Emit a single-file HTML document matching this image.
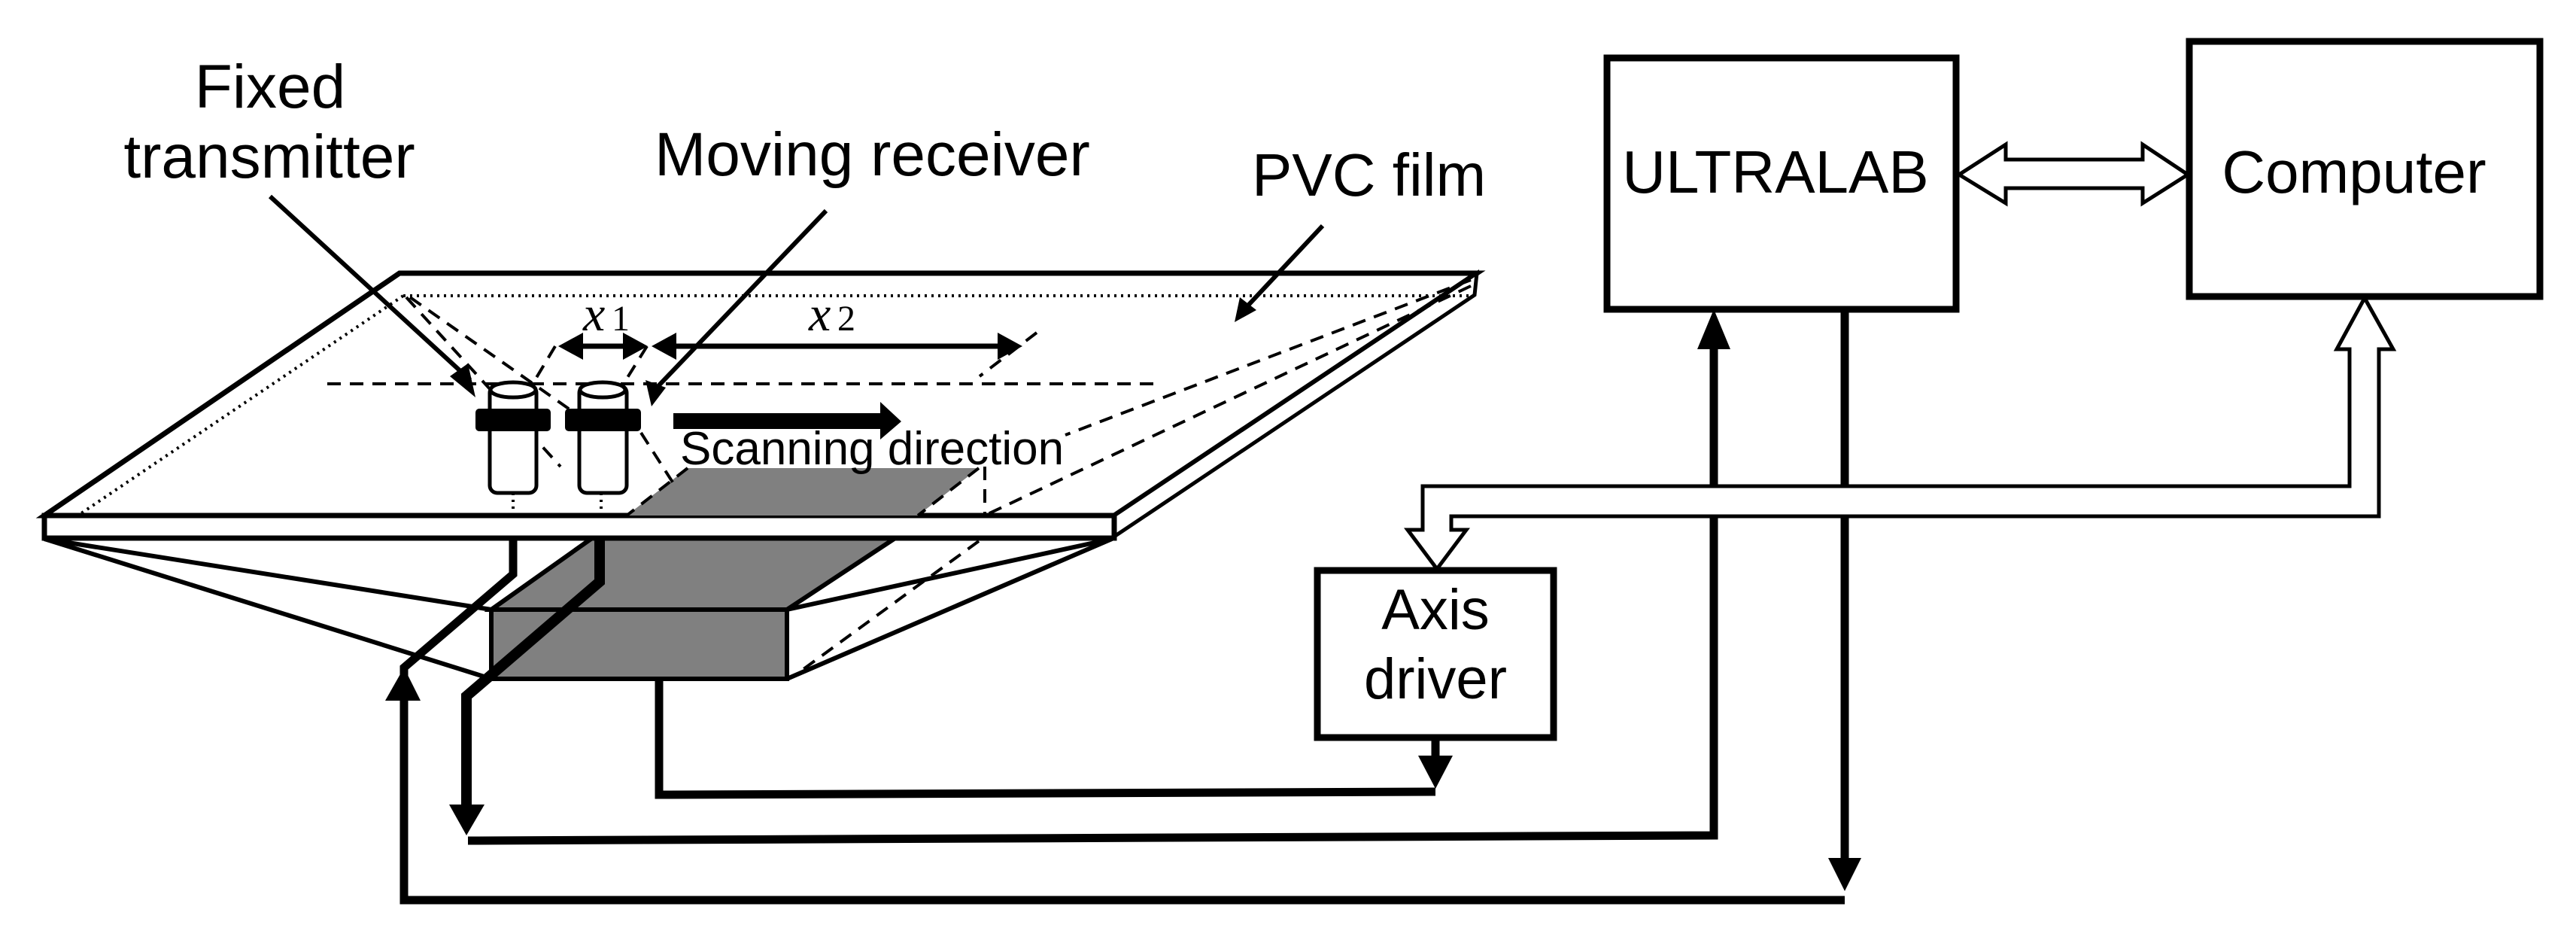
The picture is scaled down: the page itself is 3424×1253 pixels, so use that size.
<!DOCTYPE html>
<html><head><meta charset="utf-8"><style>
html,body{margin:0;padding:0;background:#fff;}
svg{display:block;}
text{font-family:"Liberation Sans",Arial,sans-serif;fill:#000;}
</style></head><body>
<svg width="3424" height="1253" viewBox="0 0 3424 1253" xmlns="http://www.w3.org/2000/svg">
<!-- labels -->
<text x="359" y="143" font-size="82" text-anchor="middle">Fixed</text>
<text x="358" y="236" font-size="82" text-anchor="middle">transmitter</text>
<text x="870" y="233" font-size="82">Moving receiver</text>
<text x="1664" y="260" font-size="80">PVC film</text>

<!-- gray sample on plate top -->
<polygon points="833,685 914,622 1301,622 1220,685" fill="#808080"/>
<!-- box top face -->
<polygon points="653,810 787,715 1190,715 1046,810" fill="#808080" stroke="#000" stroke-width="6"/>
<!-- box front -->
<rect x="653" y="810" width="393" height="92" fill="#808080" stroke="#000" stroke-width="6"/>

<!-- hopper lines -->
<g stroke="#000" stroke-width="6" fill="none">
<line x1="59" y1="716" x2="653" y2="810"/>
<line x1="59" y1="716" x2="653" y2="902"/>
<line x1="1478" y1="716" x2="1046" y2="810"/>
<line x1="1478" y1="716" x2="1046" y2="902"/>
</g>

<!-- plate -->
<g stroke="#000" fill="none" stroke-linejoin="miter">
<polygon points="531,363 1963,363 1481,685 59,685" fill="#fff" stroke-width="7"/>
<polygon points="1963,363 1960,392 1481,713 1481,685" fill="#fff" stroke-width="5"/>
<rect x="59" y="685" width="1422" height="30" fill="#fff" stroke-width="7"/>
</g>
<polygon points="833,685 914,622 1301,622 1220,685" fill="#808080"/>

<!-- dotted inner lines -->
<g stroke="#000" stroke-width="4" fill="none" stroke-dasharray="3,6">
<line x1="536" y1="393" x2="1960" y2="393"/>
<line x1="536" y1="393" x2="105" y2="684"/>
<line x1="682" y1="655" x2="682" y2="684"/>
<line x1="799" y1="655" x2="799" y2="684"/>
</g>

<!-- dashed lines -->
<g stroke="#000" stroke-width="4" fill="none" stroke-dasharray="18,12">
<line x1="435" y1="510" x2="1543" y2="510"/>
<line x1="1955" y1="372" x2="1416" y2="578"/>
<line x1="1955" y1="380" x2="1313" y2="683"/>
<line x1="1309" y1="620" x2="1309" y2="683"/>
<line x1="1378" y1="442" x2="1302" y2="500"/>
<line x1="540" y1="395" x2="745" y2="620"/>
<line x1="545" y1="395" x2="780" y2="560"/>
<line x1="738" y1="460" x2="690" y2="540"/>
<line x1="860" y1="460" x2="810" y2="540"/>
<line x1="852" y1="575" x2="900" y2="650"/>
<line x1="914" y1="622" x2="833" y2="685"/>
<line x1="1301" y1="719" x2="1053" y2="900"/>
<line x1="1301" y1="622" x2="1220" y2="685"/>
</g>

<!-- transducers -->
<g stroke="#000" stroke-width="5" fill="#fff">
<rect x="651" y="512" width="62" height="143" rx="10"/>
<ellipse cx="682" cy="518" rx="30" ry="10"/>
<rect x="770" y="512" width="63" height="143" rx="10"/>
<ellipse cx="801" cy="518" rx="30" ry="10"/>
</g>
<rect x="632" y="543" width="100" height="30" rx="5" fill="#000"/>
<rect x="751" y="543" width="101" height="30" rx="5" fill="#000"/>

<!-- scanning arrow -->
<rect x="895" y="549" width="280" height="21" fill="#000"/>
<polygon points="1170,534 1198,560 1170,584" fill="#000"/>
<text x="904" y="617" font-size="62">Scanning direction</text>

<!-- x1 x2 -->
<text x="775" y="439" font-size="66" font-family="Liberation Serif" font-style="italic" style="font-family:'Liberation Serif',serif">x</text>
<text x="813" y="439" font-size="48" style="font-family:'Liberation Serif',serif">1</text>
<text x="1075" y="439" font-size="66" font-style="italic" style="font-family:'Liberation Serif',serif">x</text>
<text x="1113" y="439" font-size="48" style="font-family:'Liberation Serif',serif">2</text>
<g stroke="#000" stroke-width="7">
<line x1="750" y1="460" x2="855" y2="460"/>
<line x1="875" y1="460" x2="1350" y2="460"/>
</g>
<g fill="#000">
<polygon points="742,460 775,442 775,478"/>
<polygon points="861,460 828,442 828,478"/>
<polygon points="866,460 899,442 899,478"/>
<polygon points="1359,460 1326,442 1326,478"/>
</g>

<!-- pointer arrows -->
<g stroke="#000" stroke-width="6">
<line x1="359" y1="261" x2="625" y2="505"/>
<line x1="1098" y1="280" x2="873" y2="515"/>
<line x1="1758" y1="300" x2="1655" y2="410"/>
</g>
<g fill="#000">
<polygon points="632,528 598,500 622,483"/>
<polygon points="866,540 858,505 885,515"/>
<polygon points="1641,428 1648,395 1670,412"/>
</g>

<!-- thick wires -->
<g stroke="#000" fill="none" stroke-linejoin="miter">
<polyline points="682,715 682,763 537,887 537,1196 2452,1196" stroke-width="11"/>
<polyline points="797,715 797,773 620,925 620,1075" stroke-width="14"/>
<polyline points="622,1117 2278,1110 2278,460" stroke-width="11"/>
<polyline points="876,904 876,1056 1908,1052" stroke-width="11"/>
<line x1="1908" y1="980" x2="1908" y2="1008" stroke-width="11"/>
<line x1="2452" y1="411" x2="2452" y2="1145" stroke-width="11"/>
</g>
<g fill="#000">
<polygon points="537,887 512,931 559,931"/>
<polygon points="620,1110 597,1069 644,1069"/>
<polygon points="1908,1048 1885,1004 1931,1004"/>
<polygon points="2278,411 2256,464 2300,464"/>
<polygon points="2452,1184 2430,1140 2474,1140"/>
</g>

<!-- boxes -->
<g stroke="#000" stroke-width="9" fill="#fff">
<rect x="2136" y="77" width="464" height="334"/>
<rect x="2910" y="55" width="466" height="339"/>
<rect x="1751" y="758" width="314" height="222"/>
</g>
<text x="2360" y="256" font-size="80" text-anchor="middle">ULTRALAB</text>
<text x="3129" y="256" font-size="80" text-anchor="middle">Computer</text>
<text x="1908" y="836" font-size="76" text-anchor="middle">Axis</text>
<text x="1908" y="928" font-size="76" text-anchor="middle">driver</text>

<!-- hollow double arrow -->
<polygon points="2604,232 2666,192 2666,212 2848,212 2848,192 2908,232 2848,270 2848,250 2666,250 2666,270" fill="#fff" stroke="#000" stroke-width="5"/>
<!-- hollow L arrow computer -> axis driver -->
<polygon points="3143,396 3181,464 3162,464 3162,686 1929,686 1929,704 1949,704 1910,756 1871,704 1891,704 1891,646 3123,646 3123,464 3106,464" fill="#fff" stroke="#000" stroke-width="5" stroke-linejoin="miter"/>
</svg>
</body></html>
